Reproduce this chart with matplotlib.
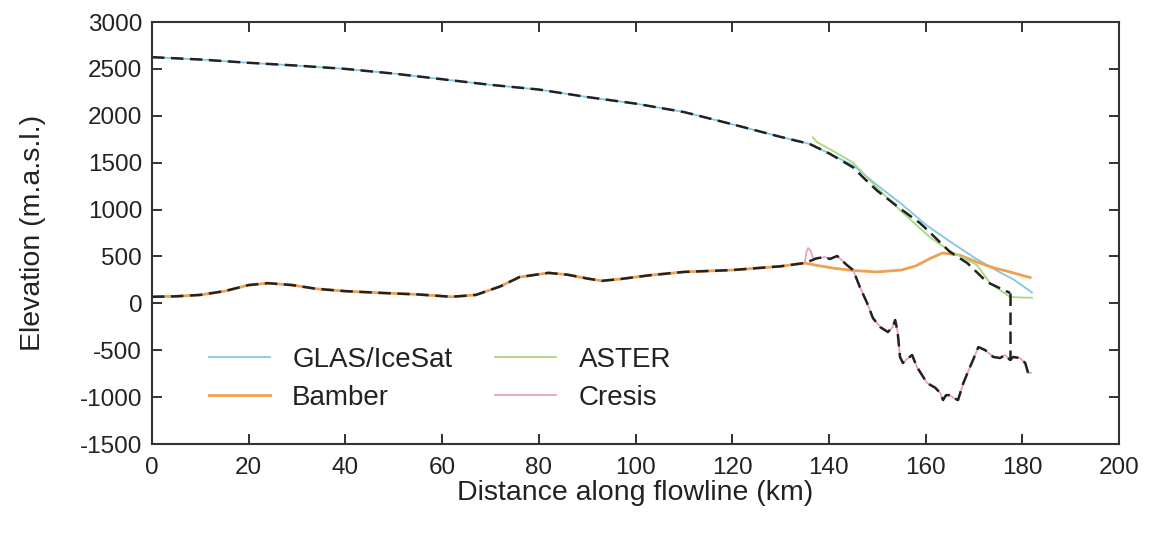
import matplotlib
matplotlib.use("Agg")
import matplotlib.pyplot as plt

plt.rcParams['font.family'] = ['Liberation Sans', 'DejaVu Sans']
plt.rcParams['axes.unicode_minus'] = False

# ---- data (km, m a.s.l.) ----
glas_x = [0, 10, 20, 30, 40, 50, 60, 70, 80, 90, 100, 110, 120, 130, 136, 140, 145, 150, 155, 160, 165, 170, 175, 178, 180, 182]
glas_y = [2625, 2600, 2565, 2535, 2500, 2450, 2390, 2330, 2280, 2200, 2130, 2040, 1910, 1775, 1700, 1600, 1470, 1260, 1060, 840, 660, 490, 340, 260, 190, 115]

aster_x = [136.7, 137.5, 140, 145, 150, 155, 161, 165, 170.6, 173.3, 177.5, 180, 182]
aster_y = [1770, 1720, 1650, 1500, 1230, 980, 700, 560, 409, 217, 67, 62, 60]

bamber_x = [0, 5, 10, 15, 20, 24, 29, 34, 40, 48, 55, 62, 67, 72, 76, 82, 86, 90, 93, 97, 103, 110, 120, 130, 135, 138, 141, 145, 150, 155, 158, 161, 163.5, 167, 170.6, 174, 177.5, 181.6]
bamber_y = [70, 75, 90, 130, 195, 215, 195, 155, 130, 110, 95, 70, 90, 180, 280, 325, 305, 265, 240, 260, 300, 335, 355, 395, 430, 400, 375, 350, 335, 355, 400, 480, 537, 515, 441, 380, 334, 275]

cresis_x = [135, 135.4, 135.7, 136.2, 136.7, 137.5, 139.2, 140.2, 141.7, 143.7, 145, 146.4, 147.9, 149.1, 150.6, 152.2, 153.2, 153.7, 154.2, 154.7, 155.3, 156, 157.2, 158.2, 160.3, 162, 163, 163.6, 164.2, 165, 165.8, 166.7, 167.8, 169, 169.8, 170.9, 172.3, 174, 175.4, 176.4, 177.5, 178.1, 179.5, 180.6, 181.2, 181.8]
cresis_y = [441, 560, 590, 560, 483, 480, 494, 473, 505, 409, 355, 174, 3, -157, -253, -306, -250, -178, -300, -572, -636, -600, -551, -679, -850, -900, -956, -1031, -980, -978, -1010, -1031, -850, -700, -604, -466, -498, -572, -583, -551, -604, -572, -583, -636, -743, -740]

model_surf_x = [0, 10, 20, 30, 40, 50, 60, 70, 80, 90, 100, 110, 120, 130, 136, 140, 145, 147, 150, 155, 158.8, 160, 165, 168.6, 172.7, 175, 177.5]
model_surf_y = [2625, 2600, 2565, 2535, 2500, 2450, 2390, 2330, 2280, 2200, 2130, 2040, 1910, 1775, 1700, 1600, 1450, 1347, 1200, 1000, 857, 800, 550, 430, 227, 170, 110]

model_bed_x = bamber_x[:25] + cresis_x[5:]
model_bed_y = bamber_y[:25] + cresis_y[5:]

terminus_x = 177.5
terminus_y = [110, -604]

fig = plt.figure(figsize=(11.6, 5.34), dpi=100)
ax = fig.add_axes([0.131, 0.1685, 0.8337, 0.7903])

lw = 1.3
ax.plot(glas_x, glas_y, color='#82c8e6', lw=lw, label='GLAS/IceSat')
ax.plot(bamber_x, bamber_y, color='#f0a050', lw=2.0, label='Bamber')
ax.plot(aster_x, aster_y, color='#a8d880', lw=lw, label='ASTER')
ax.plot(cresis_x, cresis_y, color='#eaa0c0', lw=lw, label='Cresis')

dash = (0, (5, 2.6))
ax.plot(model_surf_x, model_surf_y, color='#222222', lw=1.8, linestyle=dash)
ax.plot(model_bed_x, model_bed_y, color='#222222', lw=1.8, linestyle=dash)
ax.plot([terminus_x, terminus_x], terminus_y, color='#222222', lw=1.8, linestyle=dash)

ax.set_xlim(0, 200)
ax.set_ylim(-1500, 3000)
ax.set_xticks(range(0, 201, 20))
ax.set_yticks(range(-1500, 3001, 500))
ax.tick_params(direction='in', length=7, width=1.3, top=True, right=True,
               labelsize=17.5, colors='#222222')
ax.tick_params(axis='x', pad=9)
ax.tick_params(axis='y', pad=7)
for s in ax.spines.values():
    s.set_linewidth(1.5)
    s.set_color('#333333')

ax.set_xlabel('Distance along flowline (km)', fontsize=20.5, color='#222222', labelpad=1)
ax.set_ylabel('Elevation (m.a.s.l.)', fontsize=20.5, color='#222222', labelpad=24)

leg = ax.legend(ncol=2, frameon=False, loc='upper left', bbox_to_anchor=(0.033, 0.29),
                fontsize=20, handlelength=2.2, handletextpad=0.8, columnspacing=1.55,
                labelspacing=0.45)
for t in leg.get_texts():
    t.set_color('#222222')

fig.savefig('out.png', dpi=100)
